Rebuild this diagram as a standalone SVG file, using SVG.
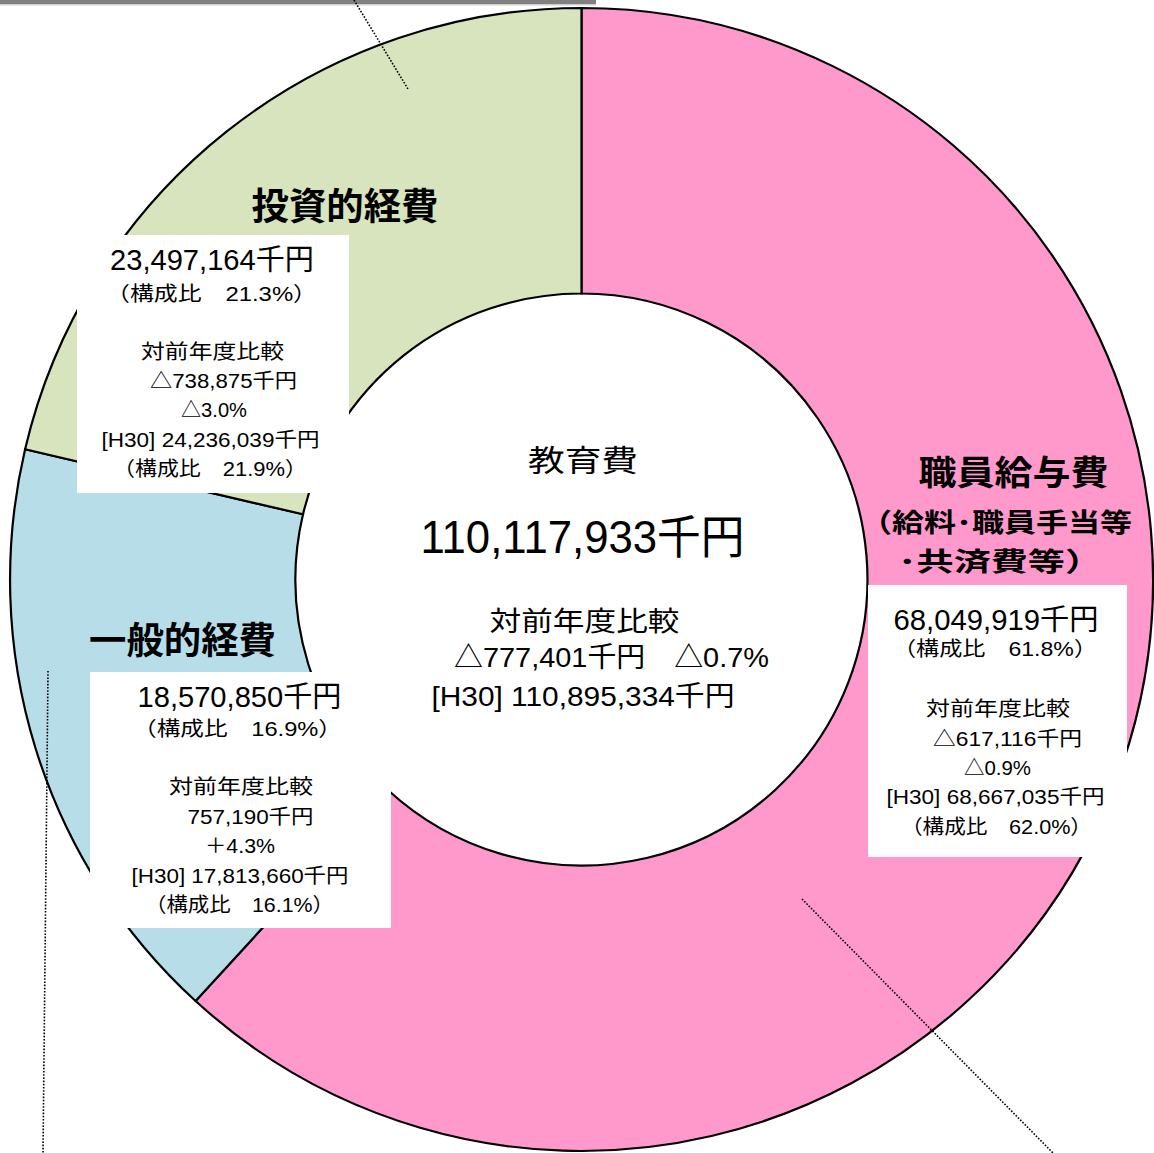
<svg xmlns="http://www.w3.org/2000/svg" width="1154" height="1153" viewBox="0 0 1154 1153">
<style>
.slice{stroke:#000;stroke-width:2.2;stroke-linejoin:miter}
.box{fill:#fff}
.t{font-family:"Liberation Sans","Noto Sans CJK JP",sans-serif;fill:#000;text-anchor:middle}
.s{font-size:20px}
.b{font-size:29px}
.h{font-family:"Noto Sans CJK JP",sans-serif;font-weight:bold;fill:#000;text-anchor:middle}
.dot{fill:none;stroke:#000;stroke-width:1.6;stroke-dasharray:1.6 1.6}
</style>
<rect width="1154" height="1153" fill="#fff"/>
<rect x="0" y="0" width="596" height="4" fill="#808080"/>
<rect x="0" y="4" width="596" height="1.5" fill="#cfcfcf"/>

<g id="slice-salary">
<path class="slice" fill="#FF99CC" d="M581.5 8 A571.5 571.5 0 1 1 195.6 1001 L388.4 790.5 A286 286 0 1 0 581.5 293.5 Z"/>
</g>
<g id="slice-general">
<path class="slice" fill="#B7DEE8" d="M195.6 1001 A571.5 571.5 0 0 1 25.1 449.2 L303 514.3 A286 286 0 0 0 388.4 790.5 Z"/>
</g>
<g id="slice-investment">
<path class="slice" fill="#D7E4BD" d="M25.1 449.2 A571.5 571.5 0 0 1 581.5 8 L581.5 293.5 A286 286 0 0 0 303 514.3 Z"/>
</g>

<g id="label-investment">
<text class="h" x="345" y="219.5" font-size="37" textLength="187" lengthAdjust="spacingAndGlyphs">投資的経費</text>
<rect class="box" x="77" y="235" width="272" height="258"/>
<text class="t b" x="212" y="270" textLength="204" lengthAdjust="spacingAndGlyphs">23,497,164千円</text>
<text class="t s" x="211.5" y="300.5" textLength="211" lengthAdjust="spacingAndGlyphs">（構成比　21.3%）</text>
<text class="t s" x="212.5" y="358.5" textLength="143" lengthAdjust="spacingAndGlyphs">対前年度比較</text>
<text class="t s" x="223.5" y="388" textLength="147" lengthAdjust="spacingAndGlyphs">△738,875千円</text>
<text class="t s" x="214" y="417" textLength="66" lengthAdjust="spacingAndGlyphs">△3.0%</text>
<text class="t s" x="210.5" y="447" textLength="218" lengthAdjust="spacingAndGlyphs">[H30] 24,236,039千円</text>
<text class="t s" x="210" y="476" textLength="194" lengthAdjust="spacingAndGlyphs">（構成比　21.9%）</text>
</g>

<g id="label-general">
<text class="h" x="182.5" y="654" font-size="37" textLength="187" lengthAdjust="spacingAndGlyphs">一般的経費</text>
<rect class="box" x="90" y="672" width="301" height="256"/>
<text class="t b" x="239.5" y="707" textLength="204" lengthAdjust="spacingAndGlyphs">18,570,850千円</text>
<text class="t s" x="237.5" y="736" textLength="209" lengthAdjust="spacingAndGlyphs">（構成比　16.9%）</text>
<text class="t s" x="241" y="794" textLength="144" lengthAdjust="spacingAndGlyphs">対前年度比較</text>
<text class="t s" x="250.5" y="824" textLength="126" lengthAdjust="spacingAndGlyphs">757,190千円</text>
<text class="t s" x="240" y="853" textLength="70" lengthAdjust="spacingAndGlyphs">＋4.3%</text>
<text class="t s" x="240" y="883" textLength="217" lengthAdjust="spacingAndGlyphs">[H30] 17,813,660千円</text>
<text class="t s" x="239.5" y="912" textLength="189" lengthAdjust="spacingAndGlyphs">（構成比　16.1%）</text>
</g>

<g id="label-salary">
<text class="h" x="1013.5" y="485" font-size="34" textLength="190" lengthAdjust="spacingAndGlyphs">職員給与費</text>
<text class="h" x="996" y="532" font-size="26.5" textLength="272" lengthAdjust="spacingAndGlyphs">（給料･職員手当等</text>
<text class="h" x="1000" y="571" font-size="26.5" textLength="204" lengthAdjust="spacingAndGlyphs">･共済費等）</text>
<rect class="box" x="868" y="585" width="259" height="272"/>
<text class="t b" x="996" y="630" textLength="205" lengthAdjust="spacingAndGlyphs">68,049,919千円</text>
<text class="t s" x="995" y="656" textLength="204" lengthAdjust="spacingAndGlyphs">（構成比　61.8%）</text>
<text class="t s" x="998" y="716" textLength="144" lengthAdjust="spacingAndGlyphs">対前年度比較</text>
<text class="t s" x="1007.5" y="746" textLength="149" lengthAdjust="spacingAndGlyphs">△617,116千円</text>
<text class="t s" x="997.5" y="775" textLength="67" lengthAdjust="spacingAndGlyphs">△0.9%</text>
<text class="t s" x="995.5" y="804" textLength="218" lengthAdjust="spacingAndGlyphs">[H30] 68,667,035千円</text>
<text class="t s" x="996.5" y="834" textLength="191" lengthAdjust="spacingAndGlyphs">（構成比　62.0%）</text>
</g>

<g id="center">
<text class="t" x="583" y="471" font-size="30" textLength="110" lengthAdjust="spacingAndGlyphs">教育費</text>
<text class="t" x="582.5" y="553" font-size="46" textLength="324" lengthAdjust="spacingAndGlyphs">110,117,933千円</text>
<text class="t" x="584.5" y="631" font-size="27" textLength="190" lengthAdjust="spacingAndGlyphs">対前年度比較</text>
<text class="t" x="611.5" y="667" font-size="28" textLength="315" lengthAdjust="spacingAndGlyphs">△777,401千円　△0.7%</text>
<text class="t" x="583" y="706" font-size="28" textLength="303" lengthAdjust="spacingAndGlyphs">[H30] 110,895,334千円</text>
</g>

<g id="connectors">
<line class="dot" x1="354" y1="0" x2="408" y2="89"/>
<line class="dot" x1="48" y1="671" x2="43" y2="1153"/>
<line class="dot" x1="802" y1="899" x2="1053" y2="1153"/>
</g>
</svg>
